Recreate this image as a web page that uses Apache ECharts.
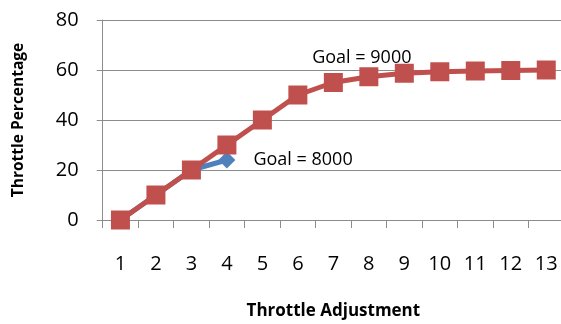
<!DOCTYPE html>
<html>
<head>
<meta charset="utf-8">
<script src="https://cdn.jsdelivr.net/npm/echarts@6/dist/echarts.min.js"></script>
<style>
  html, body { margin: 0; padding: 0; background: #fff; }
  #chart { width: 561px; height: 324px; }
</style>
</head>
<body>
<div id="chart"></div>
<script>
// Throttle response for two RPM goals
const categories = ['1', '2', '3', '4', '5', '6', '7', '8', '9', '10', '11', '12', '13'];
const goal8000 = [0, 10, 20, 24];
const goal9000 = [0, 10, 20, 30, 40, 50, 55, 57.3, 58.7, 59.3, 59.6, 59.8, 60];
const yTicks = [0, 20, 40, 60, 80];
const seriesNames = ['Goal = 8000', 'Goal = 9000'];

const FONT = 'Open Sans';
const gray = '#8c8c8c';

const chart = echarts.init(document.getElementById('chart'), null, { renderer: 'canvas' });

function labelledData(values, index, label) {
  return values.map((v, i) => i === index ? { value: v, label: label } : v);
}

chart.setOption({
  animation: false,
  textStyle: { fontFamily: FONT },
  grid: { left: 102.7, right: -3, top: 20, bottom: 104, outerBoundsMode: 'none', containLabel: false },
  xAxis: {
    type: 'category',
    data: categories,
    boundaryGap: true,
    axisLine: { lineStyle: { color: gray, width: 1 } },
    axisTick: { show: true, length: 8, lineStyle: { color: gray } },
    axisLabel: { color: '#000', fontSize: 20, margin: 34, fontFamily: FONT },
    name: 'Throttle Adjustment',
    nameLocation: 'middle',
    nameGap: 83,
    nameTextStyle: { color: '#000', fontSize: 17, fontWeight: 'bold', fontFamily: FONT }
  },
  yAxis: {
    type: 'value',
    min: yTicks[0],
    max: yTicks[yTicks.length - 1],
    interval: 20,
    axisLine: { show: true, lineStyle: { color: gray, width: 1 } },
    axisTick: { show: true, length: 6, lineStyle: { color: gray } },
    splitLine: { lineStyle: { color: gray, width: 1 } },
    axisLabel: { color: '#000', fontSize: 20, margin: 24, fontFamily: FONT },
    name: 'Throttle Percentage',
    nameLocation: 'middle',
    nameGap: 76,
    nameTextStyle: { color: '#000', fontSize: 15.5, fontWeight: 'bold', fontFamily: FONT }
  },
  series: [
    {
      name: seriesNames[0],
      type: 'line',
      data: labelledData(goal8000, 3, {
        show: true, position: 'right', distance: 18,
        formatter: seriesNames[0], color: '#000', fontSize: 18, fontFamily: FONT
      }),
      symbol: 'diamond',
      symbolSize: 17,
      lineStyle: { color: '#4F81BD', width: 5 },
      itemStyle: { color: '#4F81BD' },
      z: 2
    },
    {
      name: seriesNames[1],
      type: 'line',
      data: labelledData(goal9000, 7, {
        show: true, position: 'top', distance: 0, offset: [-7, 0],
        formatter: seriesNames[1], color: '#000', fontSize: 18, fontFamily: FONT
      }),
      symbol: 'rect',
      symbolSize: 19,
      lineStyle: { color: '#C0504D', width: 5 },
      itemStyle: { color: '#C0504D' },
      z: 3
    }
  ]
});
</script>
</body>
</html>
